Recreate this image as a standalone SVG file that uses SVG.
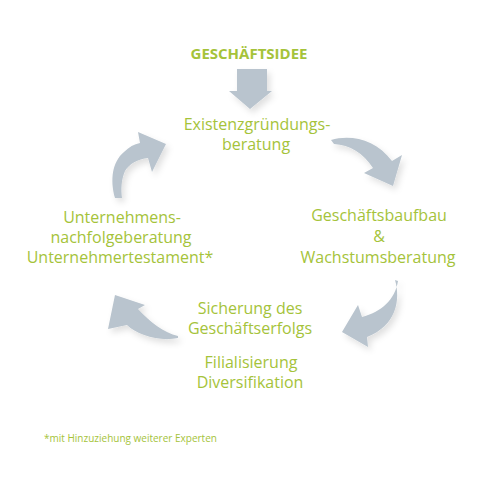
<svg xmlns="http://www.w3.org/2000/svg" width="500" height="500" viewBox="0 0 500 500">
<defs>
<filter id="sh" x="-30%" y="-30%" width="160%" height="160%">
<feDropShadow dx="3" dy="4" stdDeviation="3" flood-color="#000" flood-opacity="0.12"/>
</filter>
<style>
.t{font-family:"Open Sans","Noto Sans",sans-serif;font-size:16px;fill:#a5c33a;text-anchor:middle}
.b{font-weight:bold;font-size:15px}
.s{font-size:10px;text-anchor:start}
.a{fill:#b9c4ce;filter:url(#sh)}
</style>
</defs>
<rect width="500" height="500" fill="#fff"/>
<g id="connectors">
<path class="a" d="M237,69 H267 V91 H272 L250,109 L229,91 H237 Z"/>
<path class="a" d="M115,198 C110,180 112,162 124,152 C129,147 134,144 140,143 L138,132 L166,144 L152,172 L148,158 C138,159 129,164 125,171 C121,180 121,190 122,198 Z"/>
<path class="a" d="M331,140 C350,134 376,139 392,161 L402,155 L393,186 L364,173 L373,168 C363,153 350,145 334,144 Z"/>
<path class="a" d="M395,280 C401,300 396,326 367,337 L368,347 L342,332 L358,305 L362,317 C381,312 395,300 398,281 Z"/>
<path class="a" d="M178,338 C160,342 137,335 127,325 L108,329 L115,295 L145,305 L138,309 C150,322 164,333 178,336 Z"/>
</g>
<g id="idee"><text class="t b" x="249" y="59">GESCHÄFTSIDEE</text></g>
<g id="existenz"><text class="t" x="257" y="130">Existenzgründungs-</text><text class="t" x="256" y="150">beratung</text></g>
<g id="wachstum"><text class="t" x="379" y="221">Geschäftsbaufbau</text><text class="t" x="379" y="242">&amp;</text><text class="t" x="378" y="263">Wachstumsberatung</text></g>
<g id="sicherung"><text class="t" x="250" y="314">Sicherung des</text><text class="t" x="250" y="334">Geschäftserfolgs</text><text class="t" x="251" y="368">Filialisierung</text><text class="t" x="250" y="388">Diversifikation</text></g>
<g id="nachfolge"><text class="t" x="122" y="223">Unternehmens-</text><text class="t" x="121" y="243">nachfolgeberatung</text><text class="t" x="120" y="263">Unternehmertestament*</text></g>
<g id="footnote"><text class="t s" x="44" y="442">*mit Hinzuziehung weiterer Experten</text></g>
</svg>
